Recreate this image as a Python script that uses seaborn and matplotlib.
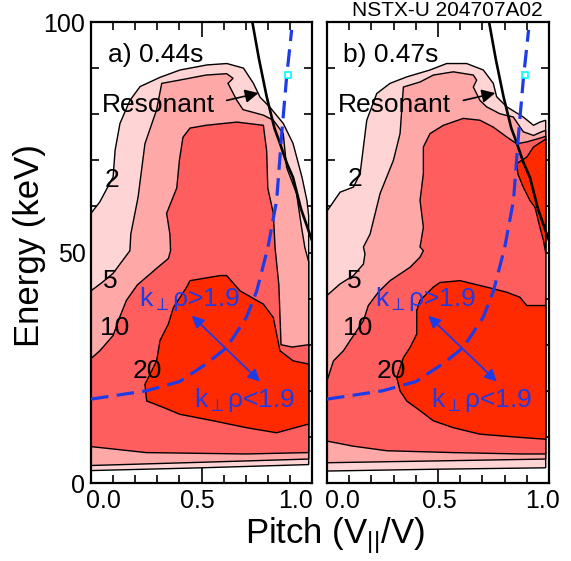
import matplotlib
matplotlib.use('Agg')
import matplotlib.pyplot as plt
import matplotlib.transforms as mtransforms
import seaborn as sns

# ---------------------------------------------------------
# Daten: Konturgrenzen in (Pitch, Energie keV)
# Niveaus 2, 5, 10, 20 -> je ein geschlossenes Polygon
# ---------------------------------------------------------
LEVELS = ['2', '5', '10', '20']
LEVEL_COLORS = ['#FFD4D4', '#FFA8A8', '#FF5E5E', '#FF2A00']

# Panel a) 0.44s
A_L2_P = [0.0, 0.0, 0.04, 0.10, 0.109, 0.131, 0.176, 0.222, 0.312, 0.403, 0.525, 0.615,
          0.69, 0.735, 0.765, 0.81, 0.87, 0.914, 0.955, 0.977, 0.985, 0.985, 0.5]
A_L2_E = [2.7, 58.5, 61, 66.4, 72.2, 78, 83, 86, 88, 89.6, 90.7, 91,
          90, 86.7, 83.7, 81.5, 78, 73.7, 66.3, 61.3, 58, 4.0, 3.3]
A_L5_P = [0.0, 0.0, 0.05, 0.10, 0.176, 0.18, 0.213, 0.244, 0.297, 0.32, 0.40, 0.52, 0.614,
          0.643, 0.62, 0.66, 0.688, 0.78, 0.825, 0.87, 0.885, 0.93, 0.953, 0.968, 0.985,
          0.985, 0.5]
A_L5_E = [3.8, 41.7, 43.5, 45.5, 50.4, 54, 62, 73.6, 81, 86.7, 87.4, 88.5, 88.8,
          87.8, 86.7, 83, 81, 79.8, 78.7, 75.8, 68.5, 62.8, 55.4, 51, 48,
          5.2, 4.5]
A_L10_P = [0.0, 0.0, 0.04, 0.10, 0.13, 0.16, 0.21, 0.30, 0.35, 0.36, 0.357, 0.342, 0.388,
           0.40, 0.416, 0.448, 0.52, 0.66, 0.78, 0.795, 0.80, 0.825, 0.833, 0.85, 0.86,
           0.91, 0.985, 0.985, 0.70, 0.25]
A_L10_E = [7.9, 27, 28.7, 32, 36, 39.6, 43, 46.7, 48.7, 50.4, 54, 58.5, 64,
           70, 75, 77, 77.6, 78.3, 77.6, 72, 64, 58.5, 51, 43, 30,
           29.5, 30, 6.6, 6.3, 6.6]
A_L20_P = [0.244, 0.297, 0.312, 0.35, 0.373, 0.433, 0.448, 0.584, 0.614, 0.674, 0.78, 0.825,
           0.855, 0.915, 0.985, 0.985, 0.84, 0.704, 0.553, 0.403, 0.327, 0.252]
A_L20_E = [21.4, 26.5, 30.9, 34.5, 38.1, 42.5, 43.9, 45, 45, 41.7, 38.8, 35.9,
           28.7, 26.5, 25.8, 12.8, 10.9, 12, 13.5, 14.9, 16.4, 17.8]

# Panel b) 0.47s
B_L2_P = [0.0, 0.0, 0.059, 0.119, 0.149, 0.164, 0.179, 0.224, 0.284, 0.359, 0.464, 0.539,
          0.629, 0.704, 0.749, 0.764, 0.81, 0.884, 0.93, 0.959, 0.985, 0.985, 0.5]
B_L2_E = [2.6, 59, 63.1, 64.2, 67.1, 72.9, 78.7, 84.5, 86.7, 88.1, 89.6, 91,
          91, 89.6, 86.7, 83.8, 81.6, 79.4, 77.6, 78.3, 78.7, 3.3, 3.0]
B_L5_P = [0.0, 0.0, 0.059, 0.119, 0.164, 0.171, 0.164, 0.194, 0.239, 0.299, 0.329, 0.344,
          0.419, 0.479, 0.569, 0.659, 0.674, 0.659, 0.689, 0.719, 0.779, 0.839, 0.884,
          0.93, 0.967, 0.985, 0.985, 0.5]
B_L5_E = [4.4, 40.7, 43.2, 45, 47.5, 49.7, 51.2, 54, 62.8, 70, 75.8, 85.9,
          87, 88.5, 89.2, 88.5, 87.4, 85.9, 83, 81.6, 80.1, 79.4, 76.2,
          75.4, 76.2, 76.5, 5.2, 4.8]
B_L10_P = [0.0, 0.0, 0.029, 0.074, 0.104, 0.164, 0.186, 0.231, 0.284, 0.374, 0.419, 0.434,
           0.419, 0.434, 0.419, 0.434, 0.434, 0.464, 0.524, 0.614, 0.689, 0.749, 0.809,
           0.854, 0.90, 0.944, 0.985, 0.985, 0.874, 0.568, 0.27, 0.117]
B_L10_E = [9.1, 22.2, 26.5, 28.7, 30.9, 35.2, 38.5, 41.4, 43.9, 46.8, 49, 50.4,
           51.2, 55.5, 61.3, 67.1, 72.9, 75.8, 77.6, 79.1, 78.7, 77.2, 75.1,
           73.6, 74.0, 74.6, 75.2, 6.3, 6.3, 6.6, 7, 8]
B_L20_P = [0.314, 0.344, 0.374, 0.404, 0.404, 0.419, 0.479, 0.509, 0.599, 0.719, 0.809,
           0.869, 0.90, 0.959, 0.985, 0.985, 0.869, 0.689, 0.569, 0.479, 0.419, 0.359, 0.329]
B_L20_E = [22.9, 27.2, 29.4, 32.3, 37.4, 39.6, 42.5, 43.5, 43.9, 42.5, 41.4,
           40.3, 38.5, 38.5, 38.5, 9.5, 9.9, 10.6, 12, 13.5, 15.7, 17.8, 20]
# kleine rote Insel oben rechts in b)
B_L20T_P = [0.854, 0.90, 0.93, 0.975, 0.985, 0.985, 0.975, 0.959, 0.937, 0.914, 0.884, 0.86]
B_L20T_E = [69.3, 70.7, 72.9, 74.3, 74.6, 50, 52.6, 55.5, 59.8, 61.3, 64.2, 67]

# Beschriftung der Konturen
A_LBL_P = [0.094, 0.086, 0.107, 0.256]
A_LBL_E = [65.8, 43.9, 33.7, 24.3]
B_LBL_P = [0.128, 0.124, 0.14, 0.288]
B_LBL_E = [66, 43.9, 33.7, 24.3]

# Resonanzlinie (schwarz) und k_perp*rho = 1.9 (blau gestrichelt)
RES_P = [0.73, 0.76, 0.795, 0.83, 0.855, 0.885, 0.914, 0.95, 1.0]
RES_E = [100, 92, 83.8, 77, 73.7, 69.5, 66.3, 59.5, 52.6]
KRHO_P = [0.0, 0.25, 0.40, 0.52, 0.614, 0.704, 0.75, 0.80, 0.84, 0.863, 0.885, 0.908]
KRHO_E = [18.2, 20, 22, 25.8, 29.4, 36, 41.7, 51, 61.3, 75.8, 88, 98.3]

blau = '#1E3CE6'

sns.set_theme(style='ticks', rc={'text.color': 'black', 'axes.labelcolor': 'black',
                                 'xtick.color': 'black', 'ytick.color': 'black',
                                 'axes.edgecolor': 'black'})
plt.rcParams['font.family'] = ['Liberation Sans', 'DejaVu Sans']
plt.rcParams['mathtext.fontset'] = 'custom'
plt.rcParams['mathtext.rm'] = 'Liberation Sans'
plt.rcParams['mathtext.it'] = 'Liberation Sans:italic'
plt.rcParams['mathtext.fallback'] = 'stixsans'

fig = plt.figure(figsize=(5.71, 5.61), dpi=100)
ax_a = fig.add_axes([0.1594, 0.139, 0.387, 0.8217])
ax_b = fig.add_axes([0.5727, 0.139, 0.3888, 0.8217])

panels = [
    (ax_a, 'a) 0.44s', 0.077,
     [(A_L2_P, A_L2_E), (A_L5_P, A_L5_E), (A_L10_P, A_L10_E), (A_L20_P, A_L20_E)],
     A_LBL_P, A_LBL_E, [12, -4, -16]),
    (ax_b, 'b) 0.47s', 0.07,
     [(B_L2_P, B_L2_E), (B_L5_P, B_L5_E), (B_L10_P, B_L10_E), (B_L20_P, B_L20_E),
      (B_L20T_P, B_L20T_E)],
     B_LBL_P, B_LBL_E, [15, 1, -7]),
]

for ax, titel, titel_x, polys, lbl_p, lbl_e, xoff in panels:
    ax.set_facecolor('white')
    farben = LEVEL_COLORS + [LEVEL_COLORS[-1]]
    for (p, e), col in zip(polys, farben):
        ax.fill(p, e, facecolor=col, edgecolor='black', linewidth=1.0, zorder=1)

    for txt, p, e in zip(LEVELS, lbl_p, lbl_e):
        ax.text(p, e, txt, fontsize=19, color='black', ha='center', va='center', zorder=4)

    # Resonanzlinie
    sns.lineplot(x=RES_P, y=RES_E, ax=ax, color='black', linewidth=1.9, sort=False, zorder=3)
    # k_perp rho = 1.9
    sns.lineplot(x=KRHO_P, y=KRHO_E, ax=ax, color=blau, linewidth=2.3, sort=False,
                 linestyle=(0, (5.5, 2.6)), zorder=3)
    ax.plot([0.893], [88.5], marker='s', ms=4, mfc='white', mec='cyan', mew=1.2, zorder=5)

    ax.text(titel_x, 91.3, titel, fontsize=19, color='black', ha='left', va='baseline', zorder=4)
    ax.text(0.049, 80.5, 'Resonant', fontsize=19, color='black', ha='left', va='baseline',
            zorder=4)
    ax.annotate('', xy=(0.758, 84.6), xytext=(0.614, 83),
                arrowprops=dict(arrowstyle='-|>', color='black', lw=1.2,
                                mutation_scale=20, shrinkA=0, shrinkB=0), zorder=4)

    ax.text(0.215, 38.5, r'k$_{\perp}$ρ>1.9', color=blau, fontsize=19,
            ha='left', va='baseline', zorder=4)
    ax.text(0.468, 16.4, r'k$_{\perp}$ρ<1.9', color=blau, fontsize=19,
            ha='left', va='baseline', zorder=4)
    ax.annotate('', xy=(0.765, 22.0), xytext=(0.456, 36.3),
                arrowprops=dict(arrowstyle='<|-|>', color=blau, lw=1.3,
                                mutation_scale=18, shrinkA=0, shrinkB=0), zorder=4)

    # Achsen
    ax.set_xlim(0, 1.0)
    ax.set_ylim(0, 100)
    ax.set_xticks([0, 0.5, 1.0])
    ax.set_xticklabels(['0.0', '0.5', '1.0'])
    ax.set_xticks([i / 10 for i in range(11)], minor=True)
    ax.set_yticks([0, 50, 100])
    ax.set_yticks(list(range(0, 101, 10)), minor=True)
    ax.set_yticklabels(['0', '50', '100'])
    ax.tick_params(which='both', direction='in', top=True, right=True,
                   color='black', width=1.2, labelsize=18, labelcolor='black')
    ax.tick_params(which='major', length=11, pad=4)
    ax.tick_params(which='minor', length=6)
    for sp in ax.spines.values():
        sp.set_linewidth(1.6)
        sp.set_color('black')
    ax.set_xlabel('')
    ax.set_ylabel('')

    for lab, dx in zip(ax.get_xticklabels(), xoff):
        lab.set_transform(lab.get_transform() +
                          mtransforms.ScaledTranslation(dx / 100, 0, fig.dpi_scale_trans))

ax_b.tick_params(labelleft=False)

fig.text(0.0525, 0.563, 'Energy (keV)', rotation=90, fontsize=25, color='black',
         ha='center', va='center')
fig.text(0.587, 0.046, r'Pitch (V$_{||}$/V)', fontsize=25, color='black',
         ha='center', va='center')
fig.text(0.9504, 0.9715, 'NSTX-U 204707A02', fontsize=15, color='black',
         ha='right', va='baseline')

fig.savefig('out.png', dpi=100)
